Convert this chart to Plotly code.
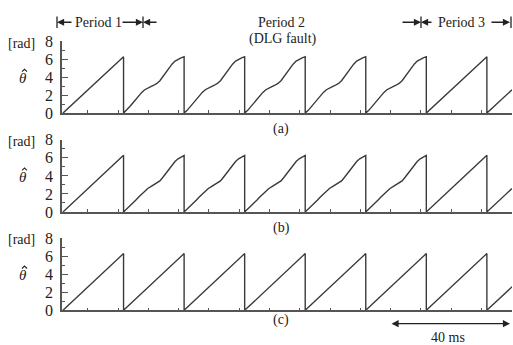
import plotly.graph_objects as go

# ---------------- data ----------------
CYCLE_STARTS_MS = [0, 20, 40, 60, 80, 100, 120]   # start of each full cycle
CYCLE_LEN_MS = 20
FAULT_CYCLES = [1, 2, 3, 4, 5]                      # cycles inside period 2
THETA_PEAK = 6.28
LAST_START_MS = 140
T_END_MS = 148.3
THETA_END = [2.6, 2.6, 2.6]                         # value at right edge, panels a,b,c

FRAC = [0, .05, .1, .15, .2, .25, .3, .35, .4, .45, .5,
        .55, .6, .65, .7, .75, .8, .85, .9, .95, 1.0]
THETA_A_FAULT = [0, 0.3, 0.7, 1.1, 1.5, 1.95, 2.3, 2.6, 2.8, 2.95, 3.1,
                 3.3, 3.6, 4.05, 4.55, 5.05, 5.45, 5.8, 6.0, 6.15, 6.28]
THETA_B_FAULT = [0, 0.3, 0.6, 0.95, 1.3, 1.65, 2.0, 2.3, 2.6, 2.8, 3.0,
                 3.2, 3.45, 3.85, 4.3, 4.8, 5.25, 5.6, 5.9, 6.1, 6.28]
THETA_C_FAULT = None                                # panel (c): no distortion

Y_TICKS = [0, 2, 4, 6, 8]
PANEL_LABELS = ["(a)", "(b)", "(c)"]

# ---------------- layout helpers ----------------
W, H = 513, 345
ML, MR = 62, 1
PW = W - ML - MR


def px(x):
    return (x - ML) / PW


def py(y):
    return 1 - y / H


def build(shape, theta_end):
    t, v = [], []
    for i, s in enumerate(CYCLE_STARTS_MS):
        if shape is not None and i in FAULT_CYCLES:
            for f, val in zip(FRAC, shape):
                t.append(s + f * CYCLE_LEN_MS)
                v.append(val)
        else:
            t += [s, s + CYCLE_LEN_MS]
            v += [0, THETA_PEAK]
    t += [LAST_START_MS, T_END_MS]
    v += [0, theta_end]
    return t, v


shapes_data = [THETA_A_FAULT, THETA_B_FAULT, THETA_C_FAULT]
# panel pixel geometry (top of y=8, bottom y=0)
panels_px = [(35, 110.5), (138.7, 214.5), (242, 318)]

FONT = "Liberation Serif"
TXT = "#222"
LINE = "#3a3a3a"
AX = "#555"

fig = go.Figure()
for k in range(3):
    t, v = build(shapes_data[k], THETA_END[k])
    sfx = "" if k == 0 else str(k + 1)
    fig.add_trace(go.Scatter(x=t, y=v, mode="lines",
                             line=dict(color=LINE, width=1.4),
                             xaxis="x" + sfx, yaxis="y" + sfx,
                             hoverinfo="skip"))
    top, bot = panels_px[k]
    fig.layout["xaxis" + sfx] = dict(
        domain=[0, 1], range=[-0.33, T_END_MS], anchor="y" + sfx,
        showline=True, linecolor=AX, linewidth=1.5, ticks="inside",
        tick0=8.2, dtick=10, ticklen=3, tickcolor=AX, tickwidth=1.2,
        showticklabels=False, showgrid=False, zeroline=False)
    fig.layout["yaxis" + sfx] = dict(
        domain=[py(bot), py(top)], range=[0, 8], anchor="x" + sfx,
        showline=True, linecolor=AX, linewidth=1.5, ticks="inside",
        tickvals=Y_TICKS, ticklen=6, tickcolor=AX, tickwidth=1.2,
        minor=dict(ticks="inside", dtick=1, ticklen=3, tickcolor=AX),
        tickfont=dict(family=FONT, size=16, color=TXT),
        ticklabelstandoff=4,
        showgrid=False, zeroline=False)

ann = []
shp = []


def text(x, y, s, size=14, xa="center", ya="middle"):
    return dict(x=px(x), y=py(y), xref="paper", yref="paper", text=s,
                showarrow=False, xanchor=xa, yanchor=ya,
                font=dict(family=FONT, size=size, color=TXT))


# "[rad]" and theta-hat labels (hat drawn as a tiny path)
for k, (top, bot) in enumerate(panels_px):
    ann.append(text(37, top + 2, "[rad]", xa="right"))
    ann.append(text(23, top + 39, "<i>θ</i>", size=15))
    hx, hy = 24.5, top + 29.5
    shp.append(dict(type="path", xref="paper", yref="paper",
                    path=(f"M {px(hx - 2.5)},{py(hy + 2.5)} L {px(hx)},{py(hy)} "
                          f"L {px(hx + 2.5)},{py(hy + 2.5)}"),
                    line=dict(color=TXT, width=1.1)))
# panel labels
for lab, ypos in zip(PANEL_LABELS, [127, 231, 328]):
    ann.append(text(281, ypos, lab))

# header texts
ann.append(text(98, 15, "Period 1"))
ann.append(text(281, 15, "Period 2"))
ann.append(text(283, 33, "(DLG fault)"))
ann.append(text(461, 15, "Period 3"))


def arrow(head_x, tail_x, y, both=False):
    return dict(x=px(head_x), y=py(y), ax=tail_x - head_x, ay=0,
                xref="paper", yref="paper", text="", showarrow=True,
                arrowhead=2, arrowsize=1.1, arrowwidth=1.3, arrowcolor=TXT,
                arrowside="end+start" if both else "end")


for hx, tx in [(57, 73), (143, 121), (143, 158), (421, 401), (421, 433), (510, 490)]:
    ann.append(arrow(hx, tx, 15))

# 40 ms scale arrow
ann.append(arrow(510, 390, 332, both=True))
ann.append(text(448, 337, "40 ms", ya="top"))

for bx in [57, 143, 421, 511]:
    shp.append(dict(type="line", xref="paper", yref="paper",
                    x0=px(bx), x1=px(bx), y0=py(9), y1=py(21),
                    line=dict(color=TXT, width=1.3)))

fig.update_layout(width=W, height=H,
                  margin=dict(l=ML, r=MR, t=0, b=0),
                  paper_bgcolor="white", plot_bgcolor="white",
                  showlegend=False, annotations=ann, shapes=shp)

fig.write_html("out.html")
